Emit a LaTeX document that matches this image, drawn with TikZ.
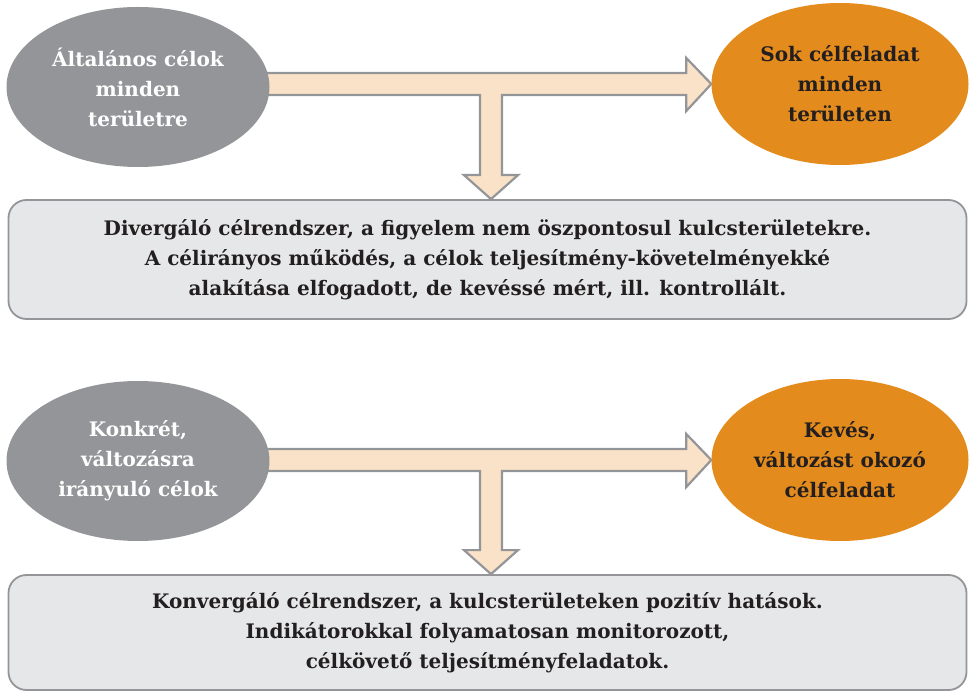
\documentclass[tikz,border=0pt]{standalone}
\usepackage{fontspec}
\setmainfont{DejaVu Serif}
\usetikzlibrary{calc,shapes.geometric,backgrounds}

\definecolor{goalgray}{HTML}{939598}
\definecolor{goalorange}{HTML}{E38B1C}
\definecolor{flowpeach}{HTML}{F9E2C7}
\definecolor{boxfill}{HTML}{E6E7E8}
\definecolor{textdark}{HTML}{231F20}

\tikzset{
  goalsrc/.style={ellipse, fill=goalgray, text=white, minimum width=263pt,
    minimum height=160pt, inner sep=0pt, align=center,
    font=\bfseries\fontsize{20}{30}\selectfont},
  goaldst/.style={ellipse, fill=goalorange, text=textdark, minimum width=257pt,
    minimum height=162pt, inner sep=0pt, align=center,
    font=\bfseries\fontsize{20}{30}\selectfont},
  resultbox/.style={rectangle, rounded corners=18pt, draw=goalgray, line width=1.8pt,
    fill=boxfill, text=textdark, minimum width=958pt, inner sep=0pt, align=center,
    font=\bfseries\fontsize{20}{30}\selectfont},
  blockarrow/.style={draw=goalgray, fill=flowpeach, line width=2.2pt, line join=miter}
}

% T-shaped block arrow: from the source ellipse to the target ellipse,
% branching down at the junction into the result box
\newcommand\teearrow[4]{%
  \draw[blockarrow]
    ($(#1.center |- #4)+(0,-11)$)
    -- ($(#2.west)+(-25,-11)$) -- ++(0,-15) -- (#2.west)
    -- ($(#2.west)+(-25,27)$) -- ++(0,-16)
    -- ($(#4)+(11,11)$)
    -- ($(#4 |- #3.north)+(11,-24)$) -- ++(16,0) -- (#4 |- #3.north)
    -- ($(#4 |- #3.north)+(-27,-24)$) -- ++(16,0)
    -- ($(#4)+(-11,11)$)
    -- ($(#1.center |- #4)+(0,11)$) -- cycle;}

\begin{document}
\begin{tikzpicture}[x=1pt, y=-1pt]
  \useasboundingbox (0,0) rectangle (969,692);

  % upper scheme
  \node[goalsrc] (src1) at (138,87) {Általános célok\\minden\\területre};
  \node[goaldst] (dst1) at (840,84) {Sok célfeladat\\minden\\területen};
  \node[resultbox, minimum height=119pt] (res1) at (487.5,259.5)
    {Divergáló célrendszer, a figyelem nem öszpontosul kulcsterületekre.\\
     A célirányos működés, a célok teljesítmény-követelményekké\\
     alakítása elfogadott, de kevéssé mért, ill. kontrollált.};
  \coordinate (j1) at (491,84);

  % lower scheme
  \node[goalsrc] (src2) at (138,461) {Konkrét,\\változásra\\irányuló célok};
  \node[goaldst] (dst2) at (840,460) {Kevés,\\változást okozó\\célfeladat};
  \node[resultbox, minimum height=115pt] (res2) at (487.5,632.5)
    {Konvergáló célrendszer, a kulcsterületeken pozitív hatások.\\
     Indikátorokkal folyamatosan monitorozott,\\
     célkövető teljesítményfeladatok.};
  \coordinate (j2) at (491,460);

  \begin{scope}[on background layer]
    \teearrow{src1}{dst1}{res1}{j1}
    \teearrow{src2}{dst2}{res2}{j2}
  \end{scope}
\end{tikzpicture}
\end{document}
